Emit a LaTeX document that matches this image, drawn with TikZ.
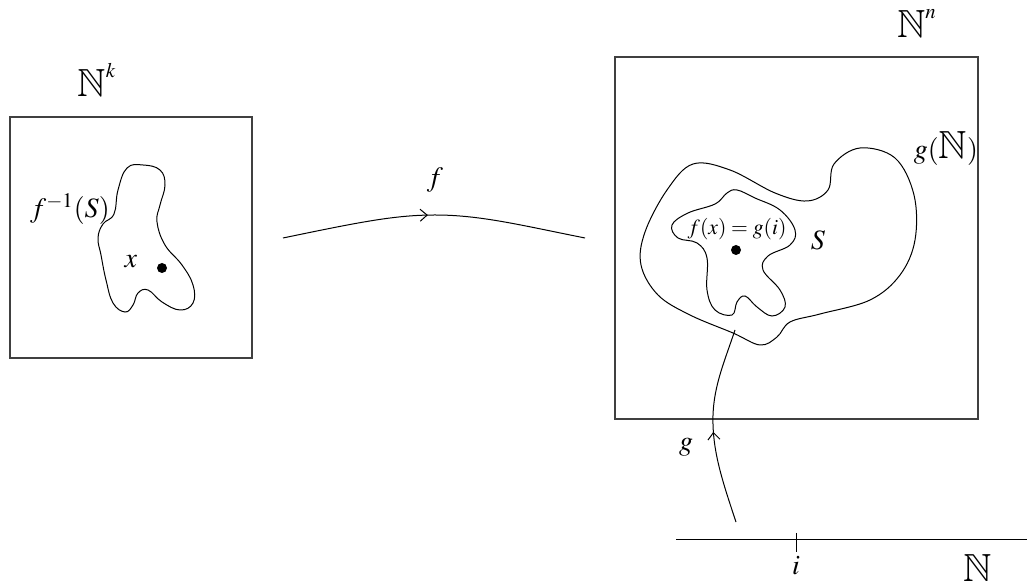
\documentclass[tikz,border=0pt]{standalone}
\usepackage{mathptmx}
\usepackage{amssymb}
\usepackage{graphicx}
\usetikzlibrary{decorations.markings,arrows.meta}
\newcommand{\bbNbig}{\mbox{\scalebox{1.4}{$\mathbb{N}$}}}
\begin{document}
\begin{tikzpicture}[x=0.5pt,y=-0.5pt,
  lbl/.style={inner sep=0pt,font=\fontsize{14}{16}\selectfont},
  boxline/.style={draw=black!75,line width=0.6pt},
  curve/.style={draw=black,line width=0.5pt},
  midarrow/.style={postaction={decorate},decoration={markings,mark=at position #1 with {\arrow{Straight Barb[length=3.5pt,width=6pt]}}}},
  dotst/.style={circle,fill=black,inner sep=0pt,minimum size=5pt}]
\useasboundingbox (0,0) rectangle (1027,581);
% boxes
\draw[boxline] (10,117) rectangle (252,358);
\draw[boxline] (615,57) rectangle (978,419);
% labels
\node[lbl] (Nk) at (97,80) {$\bbNbig^{k}$};
\node[lbl] (Nn) at (917,24) {$\bbNbig^{n}$};
\node[lbl] (gN) at (946,149) {$g(\bbNbig)$};
\node[lbl] (S) at (818,240) {$S$};
\node[lbl] (fxgi) at (737,229) {\fontsize{10.8}{12}\selectfont$f(x)=g(i)$};
\node[lbl] (finv) at (70,209) {$f^{-1}(S)$};
\node[lbl] (xl) at (131,262) {$x$};
\node[lbl] (fl) at (435,180) {$f$};
\node[lbl] (gl) at (686,447) {$g$};
\node[lbl] (il) at (796,566) {$i$};
\node[lbl] (Nl) at (978,568) {$\bbNbig$};
% dots
\node[dotst] (x) at (162,268) {};
\node[dotst] (fx) at (736,250) {};
% left blob
\draw[curve] plot[smooth cycle,tension=0.7] coordinates {
 (118,190) (127,168) (143,165) (160,170) (165,185) (160,205) (157,222) (165,245)
 (182,265) (193,285) (193,303) (180,310) (162,302) (148,290) (138,293) (133,305)
 (125,312) (113,303) (106,280) (101,255) (98,238) (103,224) (114,214)};
% outer blob g(N)
\draw[curve] plot[smooth cycle,tension=0.6] coordinates {
 (834,164) (860,148) (895,158) (914,195) (915,240) (900,275) (870,300)
 (820,314) (790,322) (777,337) (760,345) (733,333) (690,315) (658,295) (641,265)
 (645,232) (667,190) (693,164) (730,170) (775,193) (807,201) (828,190)};
% inner blob S
\draw[curve] plot[smooth cycle,tension=0.65] coordinates {
 (737,190) (755,198) (780,210) (795,230) (790,245) (768,256) (763,270)
 (780,290) (785,307) (772,316) (757,307) (745,296) (737,302) (732,315)
 (715,310) (707,290) (707,258) (697,243) (678,238) (672,225) (688,213)
 (715,204) (727,193)};
% f connector
\coordinate (fs) at (283,238);
\coordinate (fe) at (585,238);
\draw[curve,midarrow=0.48] (fs) .. controls (360,222) and (395,215) .. (435,215)
  .. controls (480,215) and (520,225) .. (fe);
% N line
\coordinate (Na) at (676,540);
\coordinate (Nb) at (1027,540);
\coordinate (it) at (796,533);
\coordinate (ib) at (796,552);
\draw[curve] (Na) -- (Nb);
\draw[curve] (it) -- (ib);
% g connector
\coordinate (gs) at (736,522);
\coordinate (ge) at (735,330);
\draw[curve,midarrow=0.47] (gs) .. controls (722,480) and (712,450) .. (713,415)
  .. controls (714,385) and (725,360) .. (ge);
\end{tikzpicture}
\end{document}
